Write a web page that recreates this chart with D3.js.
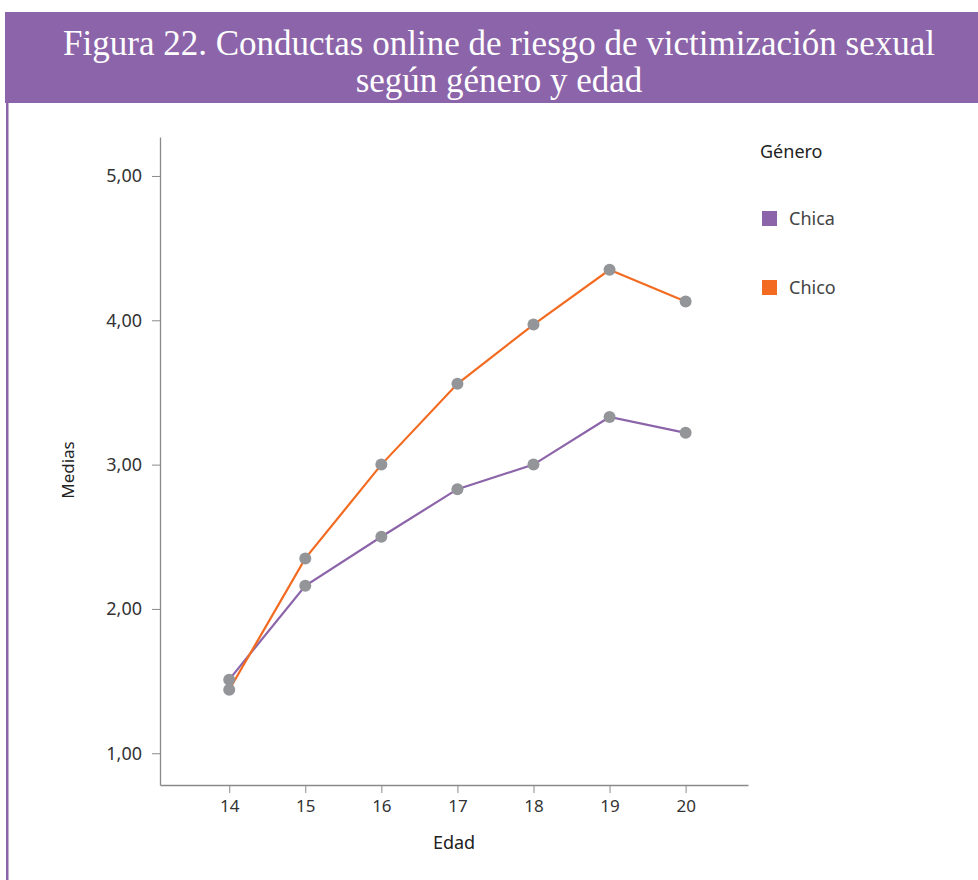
<!DOCTYPE html>
<html>
<head>
<meta charset="utf-8">
<script src="https://cdn.jsdelivr.net/npm/d3@7"></script>
<style>
  body { margin: 0; background: #fff; }
  svg { display: block; }
</style>
</head>
<body>
<svg id="chart" width="978" height="880"></svg>
<script>
// data
var edades = [14, 15, 16, 17, 18, 19, 20];
var chica = [1.51, 2.16, 2.50, 2.83, 3.00, 3.33, 3.22];
var chico = [1.44, 2.35, 3.00, 3.56, 3.97, 4.35, 4.13];
var yTicks = [1, 2, 3, 4, 5];
var titleLines = ["Figura 22. Conductas online de riesgo de victimización sexual", "según género y edad"];
var seriesNames = ["Chica", "Chico"];
var colors = ["#8c64a9", "#f26b21"];

const svg = d3.select("#chart");
const purple = "#8c64a9";

// header band
svg.append("rect").attr("x", 5).attr("y", 12).attr("width", 973).attr("height", 91).attr("fill", purple);
// left border
svg.append("rect").attr("x", 6).attr("y", 103).attr("width", 2.5).attr("height", 777).attr("fill", purple);

svg.selectAll("text.title")
  .data(titleLines)
  .enter()
  .append("text")
  .attr("class", "title")
  .attr("x", 499)
  .attr("y", function (d, i) { return 55 + i * 37; })
  .attr("text-anchor", "middle")
  .attr("fill", "#fff")
  .style("font-family", "'Liberation Serif', 'DejaVu Serif', serif")
  .style("font-size", "35px")
  .text(function (d) { return d; });

// scales
const xScale = d3.scaleLinear().domain([13.09, 20.82]).range([160, 748]);
const yScale = d3.scaleLinear().domain([0.78, 5.27]).range([785, 137]);

const font = "'Noto Sans', 'Open Sans', sans-serif";
const axisColor = "#8a8a8a";

// x axis
const xAxis = d3.axisBottom(xScale).tickValues(edades).tickSize(8).tickSizeOuter(0).tickPadding(7);
const gx = svg.append("g").attr("transform", "translate(0,785)").call(xAxis);
gx.select(".domain").attr("stroke", axisColor).attr("stroke-width", 1.3);
gx.selectAll("line").attr("stroke", axisColor);
gx.selectAll("text").attr("fill", "#333").style("font-family", font).style("font-size", "17px");

// y axis
const yAxis = d3.axisLeft(yScale).tickValues(yTicks).tickSize(8).tickSizeOuter(0).tickPadding(10)
  .tickFormat(function (d) { return d3.format(".2f")(d).replace(".", ","); });
const gy = svg.append("g").attr("transform", "translate(160,0)").call(yAxis);
gy.select(".domain").attr("stroke", axisColor).attr("stroke-width", 1.3);
gy.selectAll("line").attr("stroke", axisColor);
gy.selectAll("text").attr("fill", "#333").style("font-family", font).style("font-size", "18px");

// axis titles
svg.append("text").attr("x", 454).attr("y", 849).attr("text-anchor", "middle")
  .attr("fill", "#222").style("font-family", font).style("font-size", "18px").text("Edad");
svg.append("text").attr("transform", "translate(74,470) rotate(-90)").attr("text-anchor", "middle")
  .attr("fill", "#222").style("font-family", font).style("font-size", "17px").text("Medias");

// lines and points
const data = [chica, chico];
const line = d3.line()
  .x(function (d, i) { return xScale(edades[i]); })
  .y(function (d) { return yScale(d); });

data.forEach(function (vals, k) {
  svg.append("path")
    .datum(vals)
    .attr("fill", "none")
    .attr("stroke", colors[k])
    .attr("stroke-width", 2.2)
    .attr("d", line);
});
data.forEach(function (vals) {
  svg.append("g").selectAll("circle")
    .data(vals)
    .enter()
    .append("circle")
    .attr("cx", function (d, i) { return xScale(edades[i]); })
    .attr("cy", function (d) { return yScale(d); })
    .attr("r", 6)
    .attr("fill", "#939598");
});

// legend
svg.append("text").attr("x", 760).attr("y", 158).attr("fill", "#222")
  .style("font-family", font).style("font-size", "18px").text("Género");
const leg = svg.append("g").selectAll("g").data(seriesNames).enter().append("g")
  .attr("transform", function (d, i) { return "translate(762," + (211 + i * 69) + ")"; });
leg.append("rect").attr("width", 15).attr("height", 15)
  .attr("fill", function (d, i) { return colors[i]; });
leg.append("text").attr("x", 27).attr("y", 14).attr("fill", "#444")
  .style("font-family", font).style("font-size", "18px").text(function (d) { return d; });
</script>
</body>
</html>
